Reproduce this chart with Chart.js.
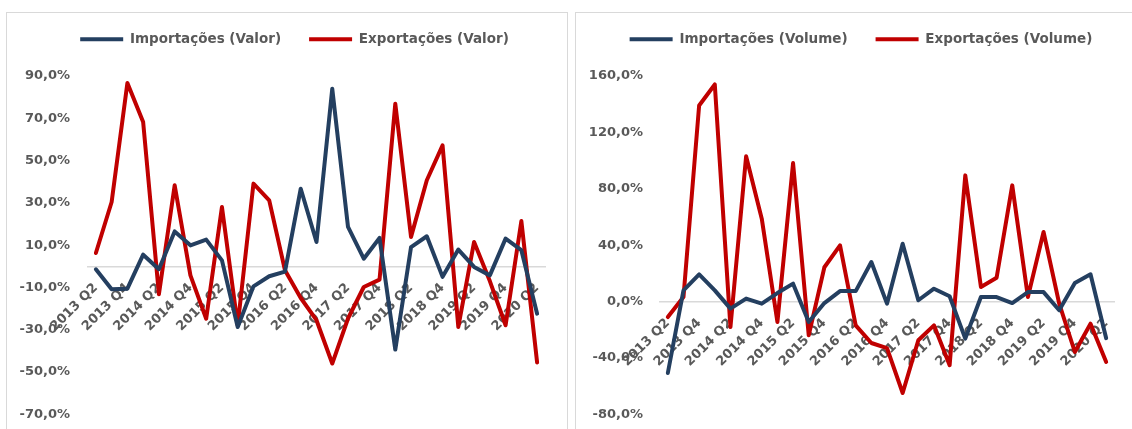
<!DOCTYPE html>
<html><head><meta charset="utf-8">
<script src="https://cdn.jsdelivr.net/npm/chart.js@4.4.1/dist/chart.umd.min.js"></script>
<style>
html,body{margin:0;padding:0;background:#fff;width:1132px;height:429px;overflow:hidden;position:relative}
.frame{position:absolute;border:1px solid #d9d9d9;box-sizing:border-box}
canvas{position:absolute;top:0}
</style></head><body>
<div class="frame" style="left:6px;top:12px;width:562px;height:430px"></div>
<div class="frame" style="left:575px;top:12px;width:570px;height:430px"></div>
<canvas id="c1" width="566" height="429" style="left:0"></canvas>
<canvas id="c2" width="562" height="429" style="left:570px"></canvas>
<script>
const categories = ['2013 Q2','2013 Q3','2013 Q4','2014 Q1','2014 Q2','2014 Q3','2014 Q4','2015 Q1','2015 Q2','2015 Q3','2015 Q4','2016 Q1','2016 Q2','2016 Q3','2016 Q4','2017 Q1','2017 Q2','2017 Q3','2017 Q4','2018 Q1','2018 Q2','2018 Q3','2018 Q4','2019 Q1','2019 Q2','2019 Q3','2019 Q4','2020 Q1','2020 Q2'];
const importacoesValor = [-1.4,-10.9,-10.6,5.5,-1.4,16.5,9.9,12.6,2.8,-28.7,-9.5,-4.7,-2.5,36.7,11.5,84.0,18.6,3.6,13.4,-39.4,9.1,14.2,-5.0,7.9,-0.3,-4.3,13.1,7.6,-22.4];
const exportacoesValor = [6.3,30.4,86.7,68.2,-13.2,38.3,-4.3,-24.8,28.0,-27.9,39.1,31.2,-1.9,-15.0,-25.5,-46.0,-24.7,-9.8,-6.3,76.9,13.9,40.7,57.2,-28.7,11.5,-7.0,-27.9,21.4,-45.5];
const importacoesVolume = [-50.7,7.9,19.3,7.9,-5.0,2.1,-1.5,6.0,12.7,-14.5,-1.1,7.4,7.4,28.0,-1.5,41.0,0.9,9.1,3.7,-26.3,3.2,3.2,-1.1,6.7,6.7,-6.2,13.1,19.3,-26.0];
const exportacoesVolume = [-11.0,3.2,139.1,154.0,-18.1,103.0,58.8,-14.5,98.2,-24.0,24.3,39.9,-16.9,-29.4,-33.0,-64.9,-27.5,-16.9,-45.2,89.5,10.3,16.9,82.4,3.2,49.3,-1.5,-35.8,-15.7,-42.9];
const valorTicks = [-70,-50,-30,-10,10,30,50,70,90];
const volumeTicks = [-80,-40,0,40,80,120,160];
const labelsValor = ['Importações (Valor)','Exportações (Valor)'];
const labelsVolume = ['Importações (Volume)','Exportações (Volume)'];

const BLUE = '#243f60', RED = '#c00000', GREY = '#595959';
const FONT = "'DejaVu Sans', sans-serif";

function makeChart(id, seriesLabels, imp, exp, ticks, cfg) {
  const tweak = {
    id: 'tweak',
    beforeUpdate(chart) {
      const lg = chart.legend;
      if (lg && !lg._patched) {
        const fit = lg.fit;
        lg.fit = function () { fit.call(this); this.height = cfg.legendHeight; };
        lg._patched = true;
      }
    },
    afterLayout(chart) {
      const lg = chart.legend;
      if (lg) { lg.left += cfg.legendShift; lg.right += cfg.legendShift; }
    }
  };
  const ds = (label, data, color) => ({
    label, data, borderColor: color, backgroundColor: color, borderWidth: 4,
    borderJoinStyle: 'round', borderCapStyle: 'round', tension: 0, fill: false,
    pointRadius: 0, pointHoverRadius: 0
  });
  return new Chart(document.getElementById(id), {
    type: 'line',
    data: {
      labels: categories,
      datasets: [ds(seriesLabels[0], imp, BLUE), ds(seriesLabels[1], exp, RED)]
    },
    options: {
      responsive: false,
      animation: false,
      devicePixelRatio: 1,
      layout: { padding: { left: 0, right: cfg.padRight, top: cfg.padTop, bottom: cfg.padBottom } },
      plugins: {
        legend: {
          position: 'top',
          labels: {
            usePointStyle: true, pointStyle: 'line', pointStyleWidth: 43,
            padding: 28, color: GREY,
            font: { family: FONT, size: 13.5, weight: 'bold' }
          }
        },
        tooltip: { enabled: false }
      },
      scales: {
        x: {
          type: 'category',
          position: { y: 0 },
          offset: true,
          grid: { display: false, drawTicks: false },
          border: { display: true, color: '#d9d9d9', width: 1.5 },
          afterFit: s => { s.paddingTop = 0; s.paddingBottom = 0; },
          ticks: {
            autoSkip: false, minRotation: 45, maxRotation: 45, padding: 14,
            color: GREY, font: { family: FONT, size: 13, weight: 'bold' },
            callback: (v, i) => (i % 2 === 0 ? categories[i] : '')
          }
        },
        y: {
          min: ticks[0], max: ticks[ticks.length - 1],
          grid: { display: false, drawTicks: false },
          border: { display: false },
          afterFit: s => { s.width = cfg.yWidth; s.paddingTop = 0; s.paddingBottom = 0; },
          afterBuildTicks: s => { s.ticks = ticks.map(v => ({ value: v })); },
          ticks: {
            padding: cfg.yPad, color: GREY,
            font: { family: FONT, size: 13, weight: 'bold' },
            callback: v => v.toFixed(1).replace('.', ',') + '%'
          }
        }
      }
    },
    plugins: [tweak]
  });
}

makeChart('c1', labelsValor, importacoesValor, exportacoesValor, valorTicks,
  { legendHeight: 71.5, legendShift: 22, padRight: 21, padTop: 4.5, padBottom: 14.7, yWidth: 88, yPad: 18 });
makeChart('c2', labelsVolume, importacoesVolume, exportacoesVolume, volumeTicks,
  { legendHeight: 71.5, legendShift: 19, padRight: 18, padTop: 4.5, padBottom: 14.7, yWidth: 90, yPad: 17 });
</script>
</body></html>
